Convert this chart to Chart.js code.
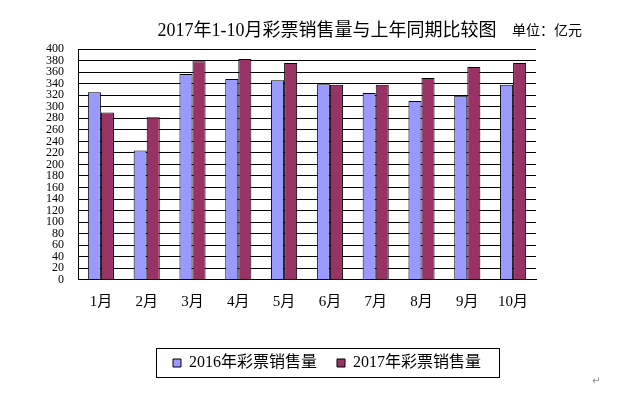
<!DOCTYPE html>
<html lang="zh">
<head>
  <meta charset="UTF-8">
  <title>2017年1-10月彩票销售量与上年同期比较图</title>
  <style>
    body { margin: 0; background: #fff; }
    .wrap { width: 630px; height: 399px; position: relative; }
  </style>
</head>
<body>
  <div class="wrap"><canvas id="salesChart"></canvas></div>

  <script src="https://cdn.jsdelivr.net/npm/chart.js"></script>
  <script>
    // 数据（单位：亿元）
    const months = ['1月', '2月', '3月', '4月', '5月', '6月', '7月', '8月', '9月', '10月'];
    const sales2016 = [325, 224, 357, 348, 346, 339, 324, 310, 319, 338];
    const sales2017 = [290, 282, 379, 383, 376, 338, 338, 350, 369, 376];
    const seriesNames = ['2016年彩票销售量', '2017年彩票销售量'];
    const yMin = 0, yMax = 400, yStep = 20;

    const serif = '"Liberation Serif", "Noto Sans CJK SC", serif';

    // legend frame, unit label and the stray paragraph mark
    const extras = {
      id: 'extras',
      afterDraw(chart) {
        const ctx = chart.ctx;
        const boxes = chart.legend.legendHitBoxes;
        ctx.save();
        if (boxes && boxes.length) {
          const first = boxes[0], last = boxes[boxes.length - 1];
          const mid = first.top + first.height / 2;
          const left = Math.round(first.left - 17);
          const right = Math.round(last.left + last.width + 18);
          ctx.strokeStyle = '#000';
          ctx.lineWidth = 1;
          ctx.strokeRect(left + 0.5, Math.round(mid - 15) + 0.5, right - left, 29);
        }
        ctx.fillStyle = '#000';
        ctx.font = '14px ' + serif;
        ctx.textBaseline = 'middle';
        ctx.textAlign = 'left';
        ctx.fillText('单位：亿元', 512, 31);
        ctx.fillStyle = '#888';
        ctx.font = '10px "DejaVu Sans"';
        ctx.fillText('↵', 592, 381);
        ctx.restore();
      }
    };

    new Chart(document.getElementById('salesChart'), {
      type: 'bar',
      data: {
        labels: months,
        datasets: [{
          label: seriesNames[0],
          data: sales2016,
          backgroundColor: '#9999FF',
          borderColor: '#000',
          borderWidth: 1
        }, {
          label: seriesNames[1],
          data: sales2017,
          backgroundColor: '#993366',
          borderColor: '#000',
          borderWidth: 1
        }]
      },
      options: {
        responsive: true,
        maintainAspectRatio: false,
        animation: false,
        layout: { padding: { left: 24, right: 0, top: 0, bottom: 18 } },
        datasets: { bar: { categoryPercentage: 0.57, barPercentage: 1 } },
        plugins: {
          title: {
            display: true,
            text: '2017年1-10月彩票销售量与上年同期比较图',
            color: '#000',
            font: { family: serif, size: 18, weight: 'normal' },
            padding: { top: 20, bottom: 7.5 }
          },
          legend: {
            position: 'bottom',
            labels: {
              color: '#000',
              font: { family: serif, size: 16 },
              boxWidth: 8,
              boxHeight: 8,
              padding: 20
            }
          },
          tooltip: { enabled: false }
        },
        scales: {
          x: {
            grid: { display: false },
            border: { color: '#000' },
            ticks: { color: '#000', font: { family: serif, size: 15 }, padding: 5, maxRotation: 0 },
            afterFit(s) { s.height = 55.2; }
          },
          y: {
            min: yMin,
            max: yMax,
            grid: { color: '#000', drawTicks: false },
            border: { color: '#000' },
            ticks: { stepSize: yStep, autoSkip: false, color: '#000', font: { family: serif, size: 12 }, padding: 14 },
            afterFit(s) { s.width = 54; }
          },
          yRight: {
            position: 'right',
            min: yMin,
            max: yMax,
            grid: { display: false },
            border: { display: false },
            ticks: { display: false },
            afterFit(s) { s.width = 94; }
          }
        }
      },
      plugins: [extras]
    });
  </script>
</body>
</html>
